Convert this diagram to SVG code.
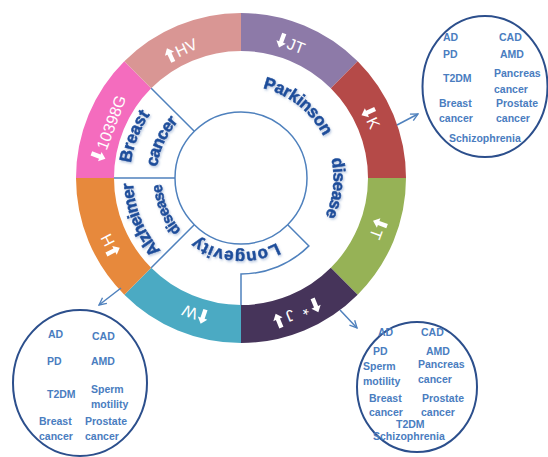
<svg xmlns="http://www.w3.org/2000/svg" xmlns:xlink="http://www.w3.org/1999/xlink" width="548" height="457" viewBox="0 0 548 457">
<style>
.seg{stroke:none}
.sl{font-family:"Liberation Sans",Arial,sans-serif;font-size:16px;fill:#fff}
.ar{fill:#fff}
.ln{fill:none;stroke:#4F81BD;stroke-width:1.5}
.il{font-family:"Liberation Sans",Arial,sans-serif;font-weight:bold;font-size:17px;fill:#1F4E9B;stroke:#1F4E9B;stroke-width:0.5}
.el{fill:#fff;stroke:#2C4F8C;stroke-width:2}
.et{font-family:"Liberation Sans",Arial,sans-serif;font-weight:bold;font-size:10.5px;fill:#4A7DC0}
.cn{fill:none;stroke:#4F81BD;stroke-width:1.5}
</style>
<defs>
<polygon id="up" class="ar" points="0,-7.5 5,-1.5 2.2,-1.5 2.2,7.5 -2.2,7.5 -2.2,-1.5 -5,-1.5"/>
<polygon id="dn" class="ar" points="0,7.5 5,1.5 2.2,1.5 2.2,-7.5 -2.2,-7.5 -2.2,1.5 -5,1.5"/>
<path id="c925" d="M241,85.5 A92.5,92.5 0 1 1 241,270.5 A92.5,92.5 0 1 1 241,85.5"/>
<path id="c111" d="M241,67 A111,111 0 1 1 241,289 A111,111 0 1 1 241,67"/>
<path id="c845" d="M241,93.5 A84.5,84.5 0 1 1 241,262.5 A84.5,84.5 0 1 1 241,93.5"/>
<path id="c108" d="M241,70 A108,108 0 1 1 241,286 A108,108 0 1 1 241,70"/>
<path id="c795" d="M241,98.5 A79.5,79.5 0 1 1 241,257.5 A79.5,79.5 0 1 1 241,98.5"/>
<path id="c74" d="M241,104 A74,74 0 1 1 241,252 A74,74 0 1 1 241,104"/>
<filter id="sh" x="-20%" y="-20%" width="140%" height="140%">
<feDropShadow dx="1" dy="1.5" stdDeviation="0.8" flood-color="#6a8cc0" flood-opacity="0.5"/>
</filter>
<marker id="ah" viewBox="0 0 10 10" refX="9" refY="5" markerWidth="9" markerHeight="9" orient="auto" markerUnits="userSpaceOnUse">
<path d="M1,1 L9,5 L1,9" fill="none" stroke="#4F81BD" stroke-width="1.5"/>
</marker>
</defs>
<rect width="548" height="457" fill="#fff"/>

<g id="seg-JT">
<path class="seg" fill="#8D7AA8" d="M241,13 A165,165 0 0 1 357.67,61.33 L330.80,88.20 A127,127 0 0 0 241,51 Z"/>
<g transform="translate(291,44) rotate(20.5)"><use href="#dn" x="-10"/><text class="sl" x="-3.5" y="5.7">JT</text></g>
</g>
<g id="seg-K">
<path class="seg" fill="#B54A48" d="M357.67,61.33 A165,165 0 0 1 406,178 L368,178 A127,127 0 0 0 330.80,88.20 Z"/>
<g transform="translate(371,118) rotate(65.2)"><use href="#dn" x="-6.4"/><text class="sl" x="0.2" y="5.7">K</text></g>
</g>
<g id="seg-T">
<path class="seg" fill="#96B256" d="M406,178 A165,165 0 0 1 357.67,294.67 L330.80,267.80 A127,127 0 0 0 368,178 Z"/>
<g transform="translate(378,229) rotate(110.4)"><use href="#dn" x="-5.9"/><text class="sl" x="0.5" y="5.7">T</text></g>
</g>
<g id="seg-Jstar">
<path class="seg" fill="#46345A" d="M357.67,294.67 A165,165 0 0 1 241,343 L241,305 A127,127 0 0 0 330.80,267.80 Z"/>
<g transform="translate(297,313) rotate(157.5)"><use href="#up" x="-20"/><text class="sl" y="5.7"><tspan x="3.2">J</tspan><tspan x="-11.6">*</tspan></text><use href="#dn" x="20"/></g>
</g>
<g id="seg-W">
<path class="seg" fill="#4BAAC3" d="M241,343 A165,165 0 0 1 124.33,294.67 L151.20,267.80 A127,127 0 0 0 241,305 Z"/>
<g transform="translate(195,314) rotate(198.7)"><use href="#up" x="-8.5"/><text class="sl" x="-2" y="5.7">W</text></g>
</g>
<g id="seg-H">
<path class="seg" fill="#E7893C" d="M124.33,294.67 A165,165 0 0 1 76,178 L114,178 A127,127 0 0 0 151.20,267.80 Z"/>
<g transform="translate(110,245) rotate(242.9)"><use href="#dn" x="-6.8"/><text class="sl" x="-0.3" y="5.7">H</text></g>
</g>
<g id="seg-10398G">
<path class="seg" fill="#F46CBE" d="M76,178 A165,165 0 0 1 124.33,61.33 L151.20,88.20 A127,127 0 0 0 114,178 Z"/>
<g transform="translate(109,128) rotate(-69.3)"><use href="#dn" x="-30"/><text class="sl" x="-22.5" y="5.7">10398G</text></g>
</g>
<g id="seg-HV">
<path class="seg" fill="#D99694" d="M124.33,61.33 A165,165 0 0 1 241,13 L241,51 A127,127 0 0 0 151.20,88.20 Z"/>
<g transform="translate(181,50) rotate(-25)"><use href="#up" x="-12"/><text class="sl" x="-5.5" y="5.7">HV</text></g>
</g>

<g id="inner-lines">
<circle class="ln" cx="241" cy="178" r="66"/>
<path class="ln" d="M151.2,88.2 L194.3,131.3"/>
<path class="ln" d="M114,178 L175,178"/>
<path class="ln" d="M151.2,267.8 L194.3,224.7"/>
<path class="ln" d="M287.7,224.7 L308.9,245.9 A96,96 0 0 1 241,274 L241,305"/>
</g>

<g id="parkinson" class="il" filter="url(#sh)">
<text><textPath href="#c925" startOffset="22" textLength="80" lengthAdjust="spacing">Parkinson</textPath></text>
<text><textPath href="#c925" startOffset="125.5" textLength="59" lengthAdjust="spacing">disease</textPath></text>
</g>
<g id="breast" class="il" filter="url(#sh)">
<text><textPath href="#c111" startOffset="537.5" textLength="52.5" lengthAdjust="spacing">Breast</textPath></text>
<text><textPath href="#c845" startOffset="408.5" textLength="51" lengthAdjust="spacing">cancer</textPath></text>
</g>
<g id="alzheimer" class="il" filter="url(#sh)">
<text><textPath href="#c108" startOffset="429" textLength="74.5" lengthAdjust="spacing">Alzheimer</textPath></text>
<text style="font-size:15px"><textPath href="#c795" startOffset="317" textLength="51" lengthAdjust="spacing">disease</textPath></text>
</g>
<g id="longevity" class="il" filter="url(#sh)">
<text><textPath href="#c74" startOffset="195" textLength="84.9" lengthAdjust="spacing">Longevity</textPath></text>
</g>

<g id="box-K">
<ellipse class="el" cx="485" cy="86.5" rx="62.5" ry="70.5"/>
<text class="et" x="443" y="40.5">AD</text>
<text class="et" x="499" y="40.5">CAD</text>
<text class="et" x="443" y="58">PD</text>
<text class="et" x="500" y="58">AMD</text>
<text class="et" x="443" y="82">T2DM</text>
<text class="et" x="494" y="77">Pancreas</text>
<text class="et" x="494" y="93">cancer</text>
<text class="et" x="439" y="107">Breast</text>
<text class="et" x="496" y="107">Prostate</text>
<text class="et" x="439" y="122">cancer</text>
<text class="et" x="496" y="122">cancer</text>
<text class="et" x="449" y="141.5">Schizophrenia</text>
</g>
<g id="box-H">
<ellipse class="el" cx="80" cy="383" rx="67" ry="73"/>
<text class="et" x="48" y="338">AD</text>
<text class="et" x="92" y="340">CAD</text>
<text class="et" x="47" y="365">PD</text>
<text class="et" x="91" y="365">AMD</text>
<text class="et" x="47" y="398">T2DM</text>
<text class="et" x="91" y="393">Sperm</text>
<text class="et" x="91" y="408">motility</text>
<text class="et" x="39" y="425">Breast</text>
<text class="et" x="85" y="425">Prostate</text>
<text class="et" x="39" y="440">cancer</text>
<text class="et" x="85" y="440">cancer</text>
</g>
<g id="box-J">
<ellipse class="el" cx="417" cy="387" rx="60" ry="65"/>
<text class="et" x="378" y="336">AD</text>
<text class="et" x="421" y="336">CAD</text>
<text class="et" x="373" y="355">PD</text>
<text class="et" x="426" y="355">AMD</text>
<text class="et" x="363" y="370">Sperm</text>
<text class="et" x="418" y="368">Pancreas</text>
<text class="et" x="363" y="385">motility</text>
<text class="et" x="418" y="383">cancer</text>
<text class="et" x="369" y="402">Breast</text>
<text class="et" x="422" y="402">Prostate</text>
<text class="et" x="369" y="416">cancer</text>
<text class="et" x="421" y="416">cancer</text>
<text class="et" x="396" y="428">T2DM</text>
<text class="et" x="373" y="440">Schizophrenia</text>
</g>

<g id="connectors">
<path class="cn" d="M397,125 L418,114" marker-end="url(#ah)"/>
<path class="cn" d="M121,288 L99,305" marker-end="url(#ah)"/>
<path class="cn" d="M340,310 L357,328" marker-end="url(#ah)"/>
</g>
</svg>
